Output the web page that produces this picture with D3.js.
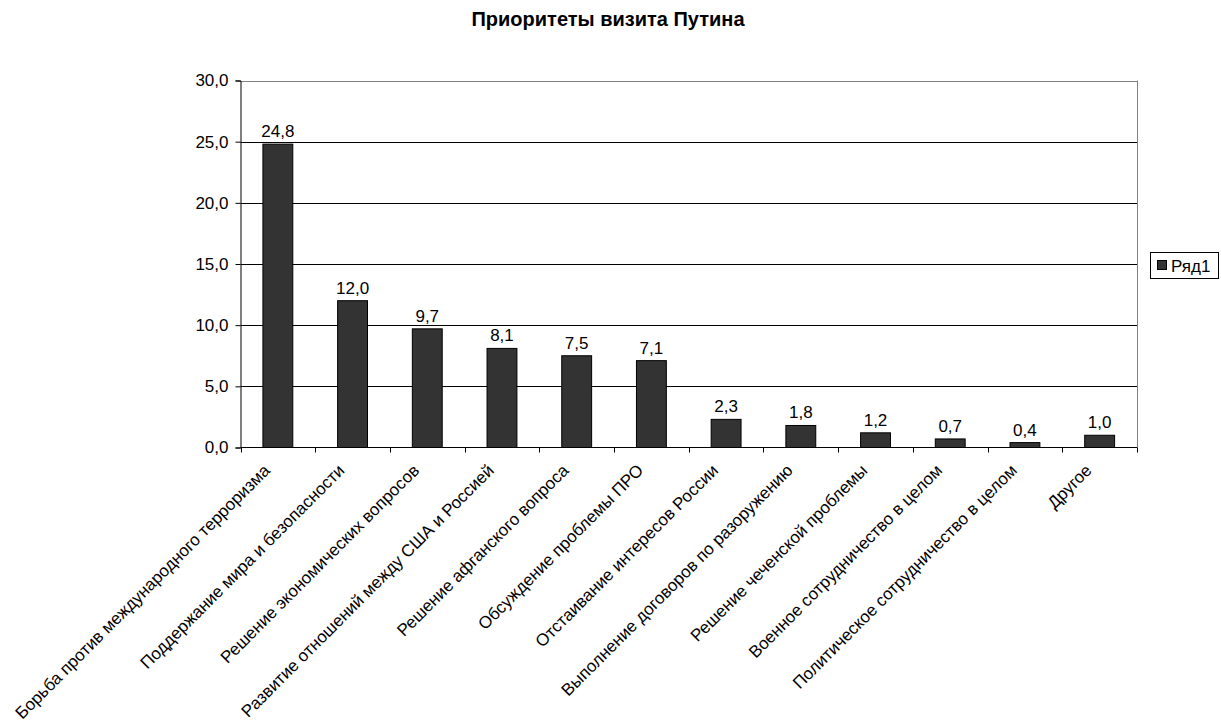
<!DOCTYPE html>
<html><head><meta charset="utf-8">
<script src="https://cdn.jsdelivr.net/npm/d3@7"></script>
<style>body{margin:0;background:#fff}svg{display:block;font-family:"Liberation Sans",Arial,sans-serif}</style>
</head><body><svg id="c" width="1221" height="727"></svg>
<script>
const categories = ["Борьба против международного терроризма","Поддержание мира и безопасности","Решение экономических вопросов","Развитие отношений между США и Россией","Решение афганского вопроса","Обсуждение проблемы ПРО","Отстаивание интересов России","Выполнение договоров по разоружению","Решение чеченской проблемы","Военное сотрудничество в целом","Политическое сотрудничество в целом","Другое"];
const values = [24.8,12.0,9.7,8.1,7.5,7.1,2.3,1.8,1.2,0.7,0.4,1.0];
const yTicks = [0,5,10,15,20,25,30];
const seriesName = "Ряд1";
const title = "Приоритеты визита Путина";

const fmt = v => v.toFixed(1).replace(".", ",");
const svg = d3.select("#c");
const L = 240.5, R = 1137, T = 80.5, B = 447.5;
const x = d3.scaleBand().domain(categories).range([L, R]).paddingInner(0.6).paddingOuter(0.3);
const xc = d3.scaleBand().domain(categories).range([L, R]);
const y = d3.scaleLinear().domain([0, 30]).range([B, T]);

svg.append("text").attr("x", 608).attr("y", 26).attr("text-anchor", "middle")
  .attr("font-size", 20).attr("font-weight", "bold").text(title);

// gridlines
svg.append("g").selectAll("line").data(yTicks.filter(d => d > 0)).join("line")
  .attr("x1", L).attr("x2", R).attr("y1", d => Math.round(y(d)) + 0.5).attr("y2", d => Math.round(y(d)) + 0.5)
  .attr("stroke", d => d === 30 ? "#808080" : "#000").attr("stroke-width", 1);
svg.append("line").attr("x1", R + 0.5).attr("x2", R + 0.5).attr("y1", T).attr("y2", B).attr("stroke", "#808080");

// bars
svg.append("g").selectAll("rect").data(values).join("rect")
  .attr("x", (d, i) => x(categories[i])).attr("width", x.bandwidth())
  .attr("y", d => y(d)).attr("height", d => B - y(d))
  .attr("fill", "#333333").attr("stroke", "#000").attr("stroke-width", 1);

// value labels
svg.append("g").selectAll("text").data(values).join("text")
  .attr("x", (d, i) => x(categories[i]) + x.bandwidth() / 2).attr("y", d => y(d) - 7)
  .attr("text-anchor", "middle").attr("font-size", 17).text(d => fmt(d));

// y axis
const ya = svg.append("g").attr("transform", `translate(${L},0)`)
  .call(d3.axisLeft(y).tickValues(yTicks).tickSize(5).tickPadding(7).tickFormat(fmt));
ya.selectAll("text").attr("font-size", 17).attr("fill", "#000").attr("font-family", "Liberation Sans, Arial, sans-serif");
ya.selectAll("line,path").attr("stroke", "#000");

// x axis
const xa = svg.append("g").attr("transform", `translate(0,${B})`);
xa.append("line").attr("x1", L).attr("x2", R).attr("stroke", "#000");
const edges = categories.map(c => xc(c)).concat([R]);
xa.selectAll("line.t").data(edges).join("line").attr("class", "t")
  .attr("x1", d => Math.round(d) + 0.5).attr("x2", d => Math.round(d) + 0.5).attr("y1", 0).attr("y2", 5).attr("stroke", "#000");
xa.selectAll("text").data(categories).join("text")
  .attr("transform", c => `translate(${xc(c) + xc.bandwidth() / 2 - 7},${24}) rotate(-45)`)
  .attr("text-anchor", "end").attr("font-size", 17).text(c => c);

// legend
const lg = svg.append("g");
lg.append("rect").attr("x", 1150.5).attr("y", 252.5).attr("width", 68).attr("height", 26).attr("fill", "#fff").attr("stroke", "#000");
lg.append("rect").attr("x", 1157.5).attr("y", 260.5).attr("width", 9).attr("height", 9).attr("fill", "#333333").attr("stroke", "#000");
lg.append("text").attr("x", 1171).attr("y", 271.5).attr("font-size", 17).text(seriesName);
</script></body></html>
